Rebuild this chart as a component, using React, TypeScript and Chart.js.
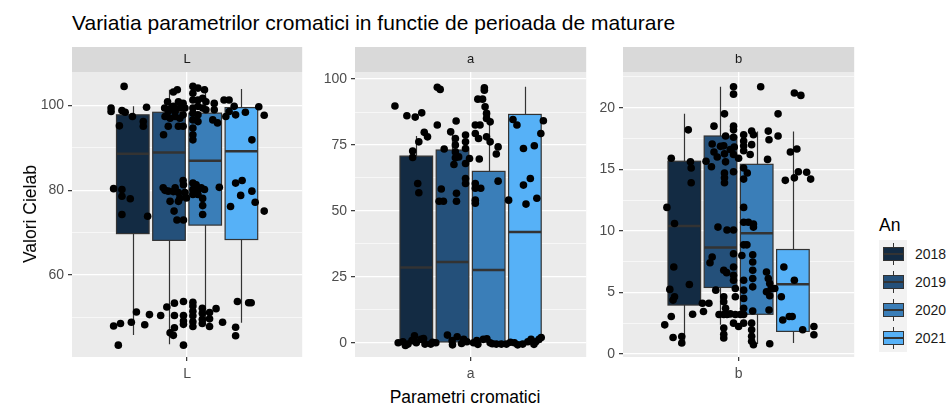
import React, { useEffect, useRef } from "react";
import { Chart, registerables } from "chart.js";
Chart.register(...registerables);

const FONT = '"Liberation Sans", Arial, Helvetica, sans-serif';

const TITLE = "Variatia parametrilor cromatici in functie de perioada de maturare";
const Y_TITLE = "Valori Cielab";
const X_TITLE = "Parametri cromatici";
const LEGEND_TITLE = "An";
const YEARS = ["2018", "2019", "2020", "2021"];
const FILLS = ["#132B43", "#24507A", "#3A7EB8", "#56B1F7"];
const PANEL_LABELS = ["L", "a", "b"];

// y ranges per panel
const L_RANGE = [40.7, 107.9];
const A_RANGE = [-5.4, 102.7];
const B_RANGE = [-0.25, 22.9];

// major / minor y ticks
const L_MAJOR = [60, 80, 100];
const L_MINOR = [50, 70, 90];
const A_MAJOR = [0, 25, 50, 75, 100];
const A_MINOR = [12.5, 37.5, 62.5, 87.5];
const B_MAJOR = [0, 5, 10, 15, 20];
const B_MINOR = [2.5, 7.5, 12.5, 17.5, 22.5];

// box stats per year: [lower whisker, q1, median, q3, upper whisker]
const L_BOX = [
  [45.9, 69.8, 88.6, 97.8, 99.8],
  [43.7, 68.2, 88.9, 98.4, 103.7],
  [48.9, 71.8, 87.0, 98.2, 104.5],
  [48.8, 68.4, 89.2, 99.5, 103.9],
];
const A_BOX = [
  [0, 0.3, 28.5, 70.8, 78.4],
  [0, 0.3, 30.6, 73.1, 79.5],
  [0, 0.3, 27.6, 65.0, 88.0],
  [0, 0.3, 42.0, 86.6, 97.1],
];
const B_BOX = [
  [0.89, 3.97, 10.4, 15.65, 19.5],
  [2.36, 5.4, 8.64, 17.7, 21.7],
  [0.8, 3.22, 9.8, 15.4, 18.07],
  [0.89, 1.83, 5.66, 8.48, 18.07],
];

// jittered points [x position (year slot 1..4 + jitter), value]
const L_POINTS: number[][] = [
  [0.76, 104.5], [0.40, 99.4], [0.40, 98.6], [0.70, 98.8], [0.79, 98.4], [0.99, 97.4], [1.38, 99.6], [0.63, 95.2], [1.29, 96.2], [1.29, 95.1],
  [0.47, 80.4], [0.70, 80.2], [0.70, 78.6], [0.93, 78.0], [0.70, 74.3], [1.41, 73.9],
  [0.47, 48.0], [0.66, 48.6], [0.96, 48.9], [1.10, 51.3], [1.33, 48.3], [1.46, 50.7], [0.60, 43.5],
  [2.23, 103.7], [2.12, 103.2], [1.96, 100.9], [1.88, 99.4], [1.98, 98.6], [2.06, 99.4], [2.12, 99.8], [2.17, 98.6], [2.26, 100.9], [2.30, 99.4],
  [2.39, 100.5], [2.44, 99.4], [2.39, 97.8], [2.30, 97.0], [2.17, 97.4], [2.03, 97.0], [1.89, 97.4], [1.98, 95.1], [2.26, 95.1], [2.39, 95.1], [1.85, 93.1],
  [2.39, 82.3], [2.40, 81.3], [1.84, 80.6], [1.89, 80.0], [1.98, 79.8], [2.17, 80.6], [2.12, 79.7], [2.26, 79.5], [2.44, 79.5], [2.30, 78.2],
  [2.48, 78.2], [2.03, 77.4], [2.26, 77.4], [2.14, 75.1], [2.22, 73.0], [2.40, 73.0],
  [1.77, 50.5], [1.94, 52.5], [2.15, 53.4], [2.15, 50.5], [2.03, 46.4], [2.12, 45.8], [2.15, 47.6], [2.40, 53.8], [2.40, 50.5], [2.40, 49.2], [2.40, 48.4], [2.40, 43.5],
  [2.66, 104.5], [2.66, 102.9], [2.80, 104.1], [2.98, 103.7], [2.66, 101.3], [2.80, 101.3], [2.93, 101.7], [3.02, 100.9], [2.66, 99.4], [2.80, 99.8],
  [2.93, 99.4], [2.66, 98.2], [2.80, 97.8], [2.66, 96.6], [2.80, 96.2], [2.66, 94.7], [2.66, 93.1], [2.66, 91.9], [3.25, 100.5], [3.25, 99.0], [3.21, 96.6], [3.34, 95.9], [3.02, 99.0],
  [2.66, 81.7], [2.75, 81.3], [2.66, 80.2], [2.80, 80.2], [2.89, 80.6], [2.98, 80.2], [2.66, 79.0], [2.80, 79.0], [2.93, 78.1], [3.39, 80.7], [2.93, 76.4], [2.93, 74.3],
  [2.66, 53.6], [2.66, 52.7], [2.66, 51.5], [2.66, 50.4], [2.66, 49.0], [2.66, 47.9], [2.92, 52.2], [2.92, 51.0], [2.92, 49.6], [2.92, 48.6], [3.12, 51.2], [3.12, 49.7], [3.12, 47.9], [3.30, 52.1], [3.48, 48.9],
  [3.52, 101.3], [3.66, 101.3], [3.80, 99.8], [3.66, 98.6], [3.57, 97.4], [3.84, 97.8], [4.11, 98.4], [4.48, 99.7], [4.63, 97.7], [4.29, 91.9],
  [3.84, 81.7], [4.02, 82.3], [3.98, 78.8], [4.29, 79.8], [4.38, 77.2], [3.70, 76.2], [4.63, 75.1],
  [3.89, 53.8], [4.20, 53.5], [4.27, 53.5], [3.84, 47.7], [3.84, 45.7],
];

const A_POINTS: number[][] = [
  [0.41, 89.8], [0.74, 86.1], [0.97, 85.6], [1.15, 87.2], [1.22, 79.8], [1.31, 78.1], [1.07, 76.2], [0.90, 72.7], [0.90, 70.3], [1.04, 60.4], [1.07, 56.9],
  [1.58, 96.9], [1.66, 96.1], [1.58, 82.6], [1.77, 73.5], [1.69, 58.3], [1.63, 53.7], [1.75, 53.7], [2.10, 84.1], [1.95, 80.0], [2.08, 77.5], [2.08, 75.0],
  [2.08, 72.4], [2.08, 70.2], [2.17, 70.5], [2.04, 67.6], [2.36, 78.8], [2.36, 76.2], [2.36, 73.7], [2.36, 68.0], [2.36, 62.3], [2.36, 60.4], [2.47, 69.9], [2.11, 56.7], [2.11, 53.7],
  [2.88, 96.7], [2.88, 95.8], [2.70, 92.4], [2.83, 92.4], [2.90, 89.5], [2.94, 87.0], [2.94, 85.1], [2.63, 82.6], [2.76, 82.6], [3.04, 83.8], [2.63, 79.4],
  [2.72, 77.5], [2.94, 78.1], [3.04, 76.2], [3.26, 74.3], [3.21, 71.6], [2.74, 69.7], [2.63, 60.4], [2.63, 58.6], [2.78, 58.6], [3.26, 61.3], [2.63, 54.1], [2.63, 52.9],
  [3.67, 84.7], [3.78, 82.6], [4.51, 84.2], [4.44, 79.4], [3.96, 73.7], [4.26, 74.7], [3.96, 59.8], [4.15, 62.3], [4.33, 54.8], [4.03, 52.6], [3.55, 54.1],
  [0.50, 0.0], [0.63, 0.4], [0.77, -0.5], [0.88, 0.8], [1.00, 0.0], [1.13, 1.3], [1.24, -0.5], [1.40, -0.5], [1.54, 0.0], [1.86, 2.9], [1.99, 0.8],
  [2.13, 2.3], [2.31, 1.3], [2.40, 0.4], [2.58, 0.0], [2.67, 0.8], [2.85, 1.3], [3.04, 0.0], [3.21, -0.5], [3.35, -0.5], [3.49, -0.5], [3.71, 0.0],
  [3.94, -0.5], [4.08, 0.4], [4.17, 1.3], [4.30, 0.4], [4.39, 1.3],
  [0.95, 2.6], [1.20, 1.6], [0.70, -1.0], [1.45, 0.2], [2.00, -0.8], [2.25, -0.3], [2.70, -0.6], [2.95, 1.5], [3.10, -0.4], [3.60, 0.2], [3.80, -0.8], [4.45, 2.0], [4.25, -0.6],
];

const B_POINTS: number[][] = [
  [2.36, 21.7], [2.36, 21.1], [3.11, 21.7], [4.04, 21.2], [4.22, 21.0], [2.11, 19.5], [3.59, 19.5], [1.11, 18.2], [1.82, 18.5], [2.36, 18.5], [2.36, 18.2],
  [2.64, 17.8], [2.86, 18.1], [2.91, 17.8], [3.32, 18.1], [3.59, 17.7], [3.34, 17.4], [2.14, 17.7], [2.36, 17.6],
  [1.77, 17.05], [2.00, 16.86], [2.09, 16.9], [2.27, 16.6], [2.38, 16.8], [1.82, 16.4], [1.91, 16.0], [2.11, 16.25], [2.14, 15.6], [2.36, 16.2], [2.50, 15.9],
  [2.64, 17.3], [2.64, 16.9], [2.64, 16.5], [2.86, 17.0], [2.82, 16.2], [1.60, 15.65], [1.75, 15.2], [0.64, 15.9], [1.17, 15.6], [1.19, 15.1], [1.19, 13.9],
  [2.11, 14.7], [2.11, 14.3], [2.11, 13.9], [2.36, 14.8], [2.64, 15.1], [2.74, 14.7], [2.64, 14.2], [3.30, 15.8], [3.93, 16.4], [4.11, 16.65], [4.15, 14.8],
  [4.38, 14.76], [4.04, 14.3], [4.49, 14.2], [3.79, 14.1], [0.52, 11.9], [2.64, 11.9],
  [0.73, 10.6], [1.93, 10.3], [2.18, 10.07], [2.36, 10.07], [2.64, 10.7], [2.77, 10.7], [2.91, 10.55], [2.91, 10.3], [2.64, 8.86], [2.73, 8.86], [2.59, 8.0],
  [2.36, 8.14], [2.89, 8.05], [2.89, 7.47], [2.89, 6.8], [1.71, 7.41], [1.77, 7.87], [0.71, 7.06], [2.09, 6.8], [2.17, 6.6], [2.36, 7.06], [2.36, 6.39],
  [2.36, 5.98], [2.41, 5.32], [2.41, 4.65], [1.14, 5.64], [0.60, 5.24], [0.73, 4.65], [0.69, 4.37], [1.87, 5.18], [2.09, 4.65], [2.09, 4.24], [2.14, 3.70],
  [2.64, 5.98], [2.64, 5.18], [2.64, 4.51], [2.64, 3.70], [2.89, 6.12], [2.89, 5.45], [2.89, 3.49], [3.27, 6.66], [3.32, 6.12], [3.36, 5.72], [3.40, 5.32],
  [3.27, 5.05], [3.36, 4.73], [3.34, 3.57], [3.50, 5.32], [3.68, 4.65], [3.75, 7.06], [4.04, 5.98], [1.50, 4.11], [1.68, 4.11], [1.53, 3.44], [1.23, 3.22],
  [0.64, 3.04], [0.46, 2.36], [1.96, 3.2], [2.09, 3.2], [2.18, 3.2], [2.27, 3.25], [2.41, 3.2], [2.55, 3.2], [2.64, 3.2], [2.36, 2.5], [2.50, 2.23], [2.64, 2.5],
  [2.09, 2.1], [2.09, 1.6], [2.09, 1.29], [2.86, 2.5], [2.86, 1.96], [2.86, 1.43], [2.86, 1.02], [2.91, 0.75], [3.36, 0.83], [0.69, 1.34], [0.93, 1.42], [0.93, 0.89],
  [3.72, 2.76], [3.90, 3.04], [3.98, 3.04], [4.27, 1.96], [4.58, 2.23], [4.58, 1.56],
];

// layout
const PANEL_LEFT = [72, 355, 623];
const PANEL_WIDTH = [234, 235, 235];
const PANEL_TOP = 72;
const PANEL_HEIGHT = 285;
const STRIP_H = 25;
const AXIS_W = 44;
const XAXIS_H = 30;
const UNIT_PX = 36.8;
const BOX_HALF = 0.45;

const PANELS = [
  { label: PANEL_LABELS[0], range: L_RANGE, majors: L_MAJOR, minors: L_MINOR, boxes: L_BOX, points: L_POINTS },
  { label: PANEL_LABELS[1], range: A_RANGE, majors: A_MAJOR, minors: A_MINOR, boxes: A_BOX, points: A_POINTS },
  { label: PANEL_LABELS[2], range: B_RANGE, majors: B_MAJOR, minors: B_MINOR, boxes: B_BOX, points: B_POINTS },
];

function buildChart(canvas: HTMLCanvasElement, p: any, width: number) {
  const half = width / 2 / UNIT_PX;
  const isMajor = (v: number) => p.majors.indexOf(v) >= 0;
  const panelPlugin = {
    id: "panelDeco",
    beforeDraw(chart: any) {
      const { ctx, chartArea: a } = chart;
      ctx.save();
      ctx.fillStyle = "#EBEBEB";
      ctx.fillRect(a.left, a.top, a.right - a.left, a.bottom - a.top);
      ctx.fillStyle = "#D9D9D9";
      ctx.fillRect(a.left, a.top - STRIP_H, a.right - a.left, STRIP_H);
      ctx.fillStyle = "#1A1A1A";
      ctx.font = `13px ${FONT}`;
      ctx.textAlign = "center";
      ctx.textBaseline = "middle";
      ctx.fillText(p.label, (a.left + a.right) / 2, a.top - STRIP_H / 2);
      ctx.restore();
    },
    beforeDatasetsDraw(chart: any) {
      const { ctx } = chart;
      const xs = chart.scales.x;
      const ys = chart.scales.y;
      ctx.save();
      p.boxes.forEach((b: number[], i: number) => {
        const c = i + 1;
        const xl = xs.getPixelForValue(c - BOX_HALF);
        const xr = xs.getPixelForValue(c + BOX_HALF);
        const xc = Math.round(xs.getPixelForValue(c)) + 0.5;
        const [lo, q1, med, q3, hi] = b.map((v) => ys.getPixelForValue(v));
        ctx.strokeStyle = "#333333";
        ctx.lineWidth = 1.2;
        ctx.beginPath();
        ctx.moveTo(xc, q3);
        ctx.lineTo(xc, hi);
        ctx.moveTo(xc, q1);
        ctx.lineTo(xc, lo);
        ctx.stroke();
        ctx.fillStyle = FILLS[i];
        ctx.fillRect(xl, q3, xr - xl, q1 - q3);
        ctx.strokeRect(xl, q3, xr - xl, q1 - q3);
        ctx.lineWidth = 2.5;
        ctx.beginPath();
        ctx.moveTo(xl, med);
        ctx.lineTo(xr, med);
        ctx.stroke();
      });
      ctx.restore();
    },
  };

  return new Chart(canvas, {
    type: "scatter",
    data: {
      datasets: [
        {
          data: p.points.map((pt: number[]) => ({ x: pt[0], y: pt[1] })),
          backgroundColor: "#000000",
          borderWidth: 0,
          pointRadius: 3.8,
          pointHoverRadius: 3.8,
        },
      ],
    },
    options: {
      animation: false,
      responsive: false,
      maintainAspectRatio: false,
      devicePixelRatio: 1,
      events: [],
      layout: { padding: { top: STRIP_H, left: 0, right: 0, bottom: 0 } },
      plugins: { legend: { display: false }, tooltip: { enabled: false }, title: { display: false } },
      scales: {
        x: {
          type: "linear",
          min: 2.5 - half,
          max: 2.5 + half,
          afterBuildTicks: (s: any) => {
            s.ticks = [{ value: 2.5 }];
          },
          afterFit: (s: any) => {
            s.height = XAXIS_H;
          },
          ticks: {
            autoSkip: false,
            maxRotation: 0,
            padding: 5,
            color: "#4D4D4D",
            font: { family: FONT, size: 14 },
            callback: () => p.label,
          },
          grid: { color: "#FFFFFF", lineWidth: 1.3, tickLength: 4, tickColor: "#333333", tickWidth: 1.2 },
          border: { display: false },
        },
        y: {
          type: "linear",
          min: p.range[0],
          max: p.range[1],
          afterBuildTicks: (s: any) => {
            s.ticks = [...p.majors, ...p.minors].sort((a, b) => a - b).map((v) => ({ value: v }));
          },
          afterFit: (s: any) => {
            s.width = AXIS_W;
          },
          ticks: {
            autoSkip: false,
            padding: 4,
            color: "#4D4D4D",
            font: { family: FONT, size: 14 },
            callback: (v: any) => (isMajor(v) ? String(v) : ""),
          },
          grid: {
            color: "#FFFFFF",
            lineWidth: (ctx: any) => (ctx.tick && isMajor(ctx.tick.value) ? 1.3 : 0.6),
            tickLength: 4,
            tickColor: (ctx: any) => (ctx.tick && isMajor(ctx.tick.value) ? "#333333" : "rgba(0,0,0,0)"),
            tickWidth: 1.2,
          },
          border: { display: false },
        },
      },
    },
    plugins: [panelPlugin],
  } as any);
}

function Panel({ index }: { index: number }) {
  const ref = useRef<HTMLCanvasElement>(null);
  const p = PANELS[index];
  const w = PANEL_WIDTH[index] + AXIS_W;
  const h = STRIP_H + PANEL_HEIGHT + XAXIS_H;
  useEffect(() => {
    const chart = buildChart(ref.current as HTMLCanvasElement, p, PANEL_WIDTH[index]);
    return () => chart.destroy();
  }, [index]);
  return (
    <canvas
      ref={ref}
      width={w}
      height={h}
      style={{
        position: "absolute",
        left: PANEL_LEFT[index] - AXIS_W,
        top: PANEL_TOP - STRIP_H,
        width: w,
        height: h,
      }}
    />
  );
}

function LegendKey({ i }: { i: number }) {
  const top = 240 + i * 28;
  return (
    <>
      <div style={{ position: "absolute", left: 879, top, width: 28, height: 28, background: "#F2F2F2" }} />
      <div style={{ position: "absolute", left: 892.5, top: top + 3, width: 1.2, height: 4, background: "#333333" }} />
      <div style={{ position: "absolute", left: 892.5, top: top + 21, width: 1.2, height: 4, background: "#333333" }} />
      <div
        style={{
          position: "absolute",
          left: 882.5,
          top: top + 7,
          width: 21,
          height: 14,
          boxSizing: "border-box",
          background: FILLS[i],
          border: "1.2px solid #333333",
        }}
      />
      <div style={{ position: "absolute", left: 882.5, top: top + 13, width: 21, height: 2, background: "#333333" }} />
      <div
        style={{
          position: "absolute",
          left: 915,
          top: top + 7,
          fontSize: 14,
          lineHeight: "14px",
          color: "#1A1A1A",
          whiteSpace: "nowrap",
        }}
      >
        {YEARS[i]}
      </div>
    </>
  );
}

export default function App() {
  return (
    <div
      style={{
        position: "absolute",
        left: 0,
        top: 0,
        width: 952,
        height: 407,
        background: "#FFFFFF",
        fontFamily: FONT,
        overflow: "hidden",
      }}
    >
      <div
        style={{ position: "absolute", left: 72, top: 12, fontSize: 21, lineHeight: "21px", color: "#000000", whiteSpace: "nowrap" }}
      >
        {TITLE}
      </div>
      {[0, 1, 2].map((i) => (
        <Panel key={i} index={i} />
      ))}
      <div
        style={{
          position: "absolute",
          left: 30,
          top: 214,
          transform: "translate(-50%, -50%) rotate(-90deg)",
          fontSize: 17.5,
          lineHeight: "18px",
          color: "#000000",
          whiteSpace: "nowrap",
        }}
      >
        {Y_TITLE}
      </div>
      <div
        style={{
          position: "absolute",
          left: 465,
          top: 397,
          transform: "translate(-50%, -50%)",
          fontSize: 17.5,
          lineHeight: "18px",
          color: "#000000",
          whiteSpace: "nowrap",
        }}
      >
        {X_TITLE}
      </div>
      <div style={{ position: "absolute", left: 879, top: 216, fontSize: 17.5, lineHeight: "18px", color: "#000000" }}>
        {LEGEND_TITLE}
      </div>
      {[0, 1, 2, 3].map((i) => (
        <LegendKey key={i} i={i} />
      ))}
    </div>
  );
}
